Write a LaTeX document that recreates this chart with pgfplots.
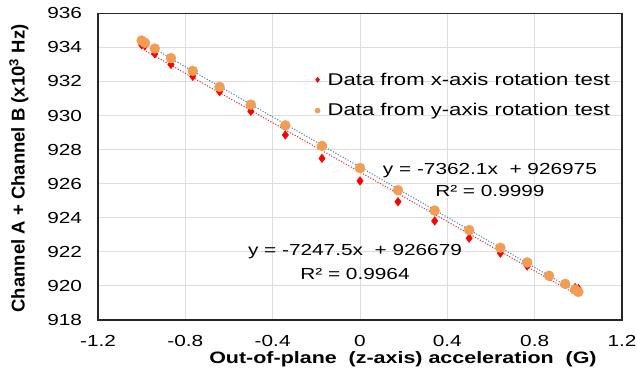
\documentclass[border=0pt]{standalone}
\usepackage{fontspec}
\setmainfont{Liberation Sans}[FakeStretch=1.3]
\newfontfamily\ylfont{Liberation Sans}
\usepackage{pgfplots}
\pgfplotsset{compat=1.18}
\definecolor{gridgray}{RGB}{222,222,222}
\definecolor{myorange}{RGB}{242,157,84}
\definecolor{myblue}{RGB}{60,135,200}
\definecolor{myred}{RGB}{255,0,0}
\begin{document}
\begin{tikzpicture}
\begin{axis}[
  scale only axis, width=524bp, height=306.7bp,
  xmin=-1.2, xmax=1.2, ymin=918, ymax=936,
  xtick={-1.2,-0.8,-0.4,0,0.4,0.8,1.2},
  xticklabels={-1.2,-0.8,-0.4,0,0.4,0.8,1.2},
  ytick={918,920,922,924,926,928,930,932,934,936},
  yticklabels={918,920,922,924,926,928,930,932,934,936},
  grid=major, major grid style={draw=gridgray, line width=1bp},
  axis line style={line width=1.5bp, black!85},
  major tick length=0pt,
  /pgf/number format/assume math mode=true,
  tick label style={font=\fontsize{16bp}{19bp}\selectfont},
  yticklabel style={xshift=-12.5bp},
  xticklabel style={yshift=-11.5bp},
  xlabel={Out-of-plane~~(z-axis)~acceleration~~(G)},
  xlabel style={font=\bfseries\fontsize{16.5bp}{19bp}\selectfont, at={(axis description cs:0.582,0)}, anchor=center, yshift=-39.5bp},
  ylabel={Channel A + Channel B (x10\textsuperscript{3} Hz)},
  ylabel style={font=\ylfont\bfseries\fontsize{18.5bp}{22bp}\selectfont, at={(axis description cs:-0.1508,0.494)}, anchor=center},
  legend style={draw=none, fill=none, font=\fontsize{17bp}{20bp}\selectfont,
    at={(axis description cs:0.408,0.733)}, anchor=west, row sep=13bp,
    /tikz/every odd column/.style={column sep=5.5bp}},
  legend cell align=left,
  legend image code/.code={\draw[#1, mark size=2.6bp] plot coordinates {(0bp,0bp)};},
]
\addplot[only marks, mark=diamond*, mark size=4.3bp, color=myred] coordinates {
(-1,934.15) (-0.985,934.10) (-0.940,933.62) (-0.866,933.00) (-0.766,932.30)
(-0.643,931.40) (-0.5,930.25) (-0.342,928.86) (-0.174,927.49) (0,926.16)
(0.174,924.94) (0.342,923.81) (0.5,922.80) (0.643,921.92) (0.766,921.17)
(0.866,920.55) (0.940,920.12) (0.985,919.90) (1,919.85)
};
\addlegendentry{Data from x-axis rotation test}
\addplot[only marks, mark=*, mark size=5bp, color=myorange] coordinates {
(-1,934.40) (-0.985,934.27) (-0.940,933.93) (-0.866,933.37) (-0.766,932.62)
(-0.643,931.68) (-0.5,930.64) (-0.342,929.42) (-0.174,928.22) (0,926.92)
(0.174,925.62) (0.342,924.42) (0.5,923.28) (0.643,922.24) (0.766,921.38)
(0.866,920.60) (0.940,920.12) (0.985,919.78) (1,919.65)
};
\addlegendentry{Data from y-axis rotation test}
\addplot[forget plot, no marks, color=myred!85, line width=1.5bp, line cap=round, dash pattern=on 0pt off 2.8bp] coordinates {(-1,933.9265) (1,919.4315)};
\addplot[forget plot, no marks, color=myblue, line width=1.5bp, line cap=round, dash pattern=on 0pt off 2.8bp] coordinates {(-1,934.3371) (1,919.6129)};
\node[font=\fontsize{16bp}{19bp}\selectfont, anchor=center] at (axis cs:0.595,926.76) {y = -7362.1x~~+ 926975};
\node[font=\fontsize{16bp}{19bp}\selectfont, anchor=center] at (axis cs:0.595,925.59) {R² = 0.9999};
\node[font=\fontsize{16bp}{19bp}\selectfont, anchor=center] at (axis cs:-0.023,922.01) {y = -7247.5x~~+ 926679};
\node[font=\fontsize{16bp}{19bp}\selectfont, anchor=center] at (axis cs:-0.023,920.70) {R² = 0.9964};
\end{axis}
\pgfresetboundingbox
\useasboundingbox (-98bp,-57bp) rectangle (539bp,320bp);
\end{tikzpicture}
\end{document}
